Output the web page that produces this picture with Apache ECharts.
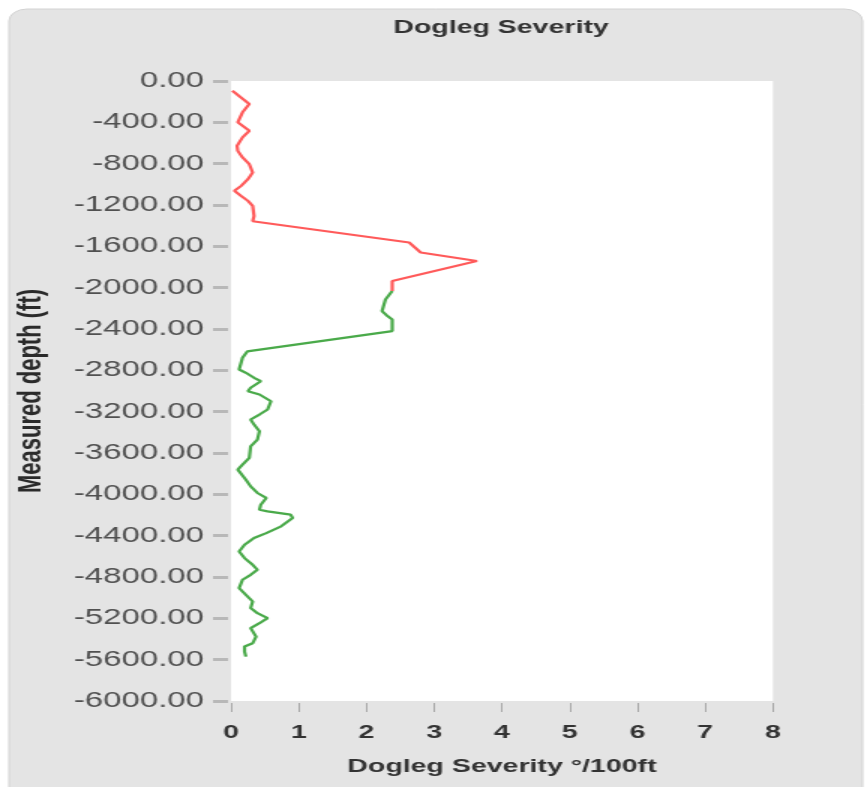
<!DOCTYPE html>
<html>
<head>
<meta charset="utf-8">
<title>Dogleg Severity</title>
<script src="https://cdn.jsdelivr.net/npm/echarts@6/dist/echarts.min.js"></script>
<style>
  html, body { margin: 0; padding: 0; background: #ffffff; overflow: hidden; }
  /* the chart is laid out narrow and widened horizontally, like the original plot */
  #chart { width: 578px; height: 787px; transform: scaleX(1.5); transform-origin: 0 0; }
</style>
</head>
<body>
<div id="chart"></div>
<script>
// Measured depth (ft) and dogleg severity (°/100ft) along the well path
const upperDepth = [-95, -223, -303, -400, -433, -482, -546, -627, -676, -740, -805, -885, -950,
  -1015, -1063, -1112, -1160, -1209, -1306, -1357, -1563, -1660, -1742, -1936, -2033];
const upperDls = [0.02, 0.27, 0.17, 0.10, 0.17, 0.27, 0.17, 0.09, 0.10, 0.17, 0.27, 0.32, 0.25,
  0.15, 0.05, 0.15, 0.25, 0.32, 0.34, 0.32, 2.63, 2.80, 3.63, 2.38, 2.38];

const lowerDepth = [-2033, -2114, -2226, -2275, -2307, -2420, -2617, -2678, -2792, -2824, -2872,
  -2905, -2969, -3002, -3034, -3099, -3179, -3228, -3276, -3325, -3390, -3470, -3535, -3648,
  -3712, -3761, -3858, -3923, -3987, -4035, -4100, -4149, -4165, -4197, -4229, -4310, -4375,
  -4423, -4488, -4553, -4617, -4682, -4730, -4779, -4827, -4908, -4972, -5037, -5101, -5150,
  -5198, -5247, -5295, -5377, -5441, -5473, -5522, -5571];
const lowerDls = [2.38, 2.28, 2.23, 2.31, 2.38, 2.38, 0.24, 0.17, 0.12, 0.22, 0.34,
  0.44, 0.29, 0.25, 0.42, 0.59, 0.54, 0.42, 0.29, 0.34, 0.42, 0.39, 0.29, 0.27,
  0.17, 0.10, 0.22, 0.29, 0.39, 0.52, 0.44, 0.42, 0.54, 0.88, 0.91, 0.74, 0.52,
  0.34, 0.20, 0.12, 0.20, 0.32, 0.39, 0.29, 0.17, 0.12, 0.22, 0.32, 0.29, 0.39,
  0.54, 0.42, 0.29, 0.37, 0.32, 0.20, 0.20, 0.22];

const severityTicks = { min: 0, max: 8, step: 1 };
const depthTicks = { min: -6000, max: 0, step: 400 };

const titleText = 'Dogleg Severity';
const xName = 'Dogleg Severity °/100ft';
const yName = 'Measured depth (ft)';

const pairs = (xs, ys) => xs.map((x, i) => [x, ys[i]]);

const font = 'Liberation Sans, Arial, sans-serif';
const chart = echarts.init(document.getElementById('chart'), null, { renderer: 'canvas' });

chart.setOption({
  animation: false,
  backgroundColor: 'transparent',
  graphic: [{
    type: 'rect',
    z: -10,
    silent: true,
    shape: { x: 6, y: 9, width: 569, height: 800, r: 12 },
    style: { fill: '#e4e4e4', stroke: '#d2d2d2', lineWidth: 1 }
  }],
  title: {
    text: titleText,
    left: 334,
    top: 18,
    padding: 0,
    textAlign: 'center',
    textStyle: { fontFamily: font, fontSize: 19, fontWeight: 'bold', color: '#333333' }
  },
  grid: {
    left: 154, right: 62.7, top: 81, bottom: 86,
    show: true, backgroundColor: '#ffffff', borderWidth: 0
  },
  xAxis: {
    type: 'value',
    min: severityTicks.min, max: severityTicks.max, interval: severityTicks.step,
    offset: 2,
    axisLine: { show: false, onZero: false },
    axisTick: { show: true, length: 9, lineStyle: { color: '#a8a8a8', width: 1 } },
    splitLine: { show: false },
    axisLabel: { margin: 20, fontFamily: font, fontSize: 19, fontWeight: 'bold', color: '#333333' },
    name: xName,
    nameLocation: 'middle',
    nameGap: 54,
    nameTextStyle: { fontFamily: font, fontSize: 19, fontWeight: 'bold', color: '#333333' }
  },
  yAxis: {
    type: 'value',
    min: depthTicks.min, max: depthTicks.max, interval: depthTicks.step,
    offset: 2,
    axisLine: { show: false, onZero: false },
    axisTick: { show: true, length: 10, lineStyle: { color: '#b8b8b8', width: 3 } },
    splitLine: { show: false },
    axisLabel: {
      margin: 16, fontFamily: font, fontSize: 22, color: '#505050',
      formatter: v => v.toFixed(2)
    },
    name: yName,
    nameLocation: 'middle',
    nameGap: 120,
    nameTextStyle: { fontFamily: font, fontSize: 22, fontWeight: 'bold', color: '#2a2a2a' }
  },
  series: [
    {
      name: 'upper',
      type: 'line',
      data: pairs(upperDls, upperDepth),
      showSymbol: false,
      lineStyle: { color: '#ff5a5a', width: 2.2 },
      z: 3
    },
    {
      name: 'lower',
      type: 'line',
      data: pairs(lowerDls, lowerDepth),
      showSymbol: false,
      lineStyle: { color: '#4aaa4a', width: 2.2 },
      z: 2
    }
  ]
});
</script>
</body>
</html>
